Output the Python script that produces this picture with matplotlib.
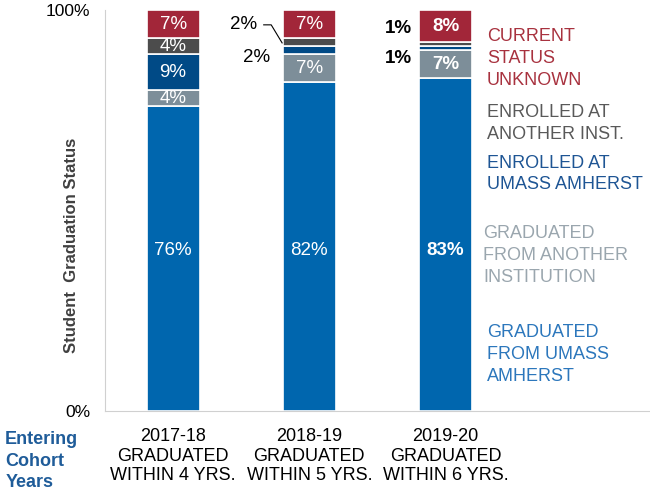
import matplotlib.pyplot as plt
import numpy as np

plt.rcParams['font.family'] = ['Liberation Sans', 'DejaVu Sans']

cohorts = ['2017-18\nGRADUATED\nWITHIN 4 YRS.', '2018-19\nGRADUATED\nWITHIN 5 YRS.', '2019-20\nGRADUATED\nWITHIN 6 YRS.']
grad_umass = [76, 82, 83]
grad_other = [4, 7, 7]
enrolled_umass = [9, 2, 1]
enrolled_other = [4, 2, 1]
unknown = [7, 7, 8]

series = [grad_umass, grad_other, enrolled_umass, enrolled_other, unknown]
colors = ['#0066AE', '#7D8E99', '#004A86', '#4C4C4C', '#A22639']
legend_names = ['GRADUATED\nFROM UMASS\nAMHERST', 'GRADUATED\nFROM ANOTHER\nINSTITUTION',
                'ENROLLED AT\nUMASS AMHERST', 'ENROLLED AT\nANOTHER INST.', 'CURRENT\nSTATUS\nUNKNOWN']
legend_colors = ['#2C77BC', '#9AA6AE', '#1E5594', '#595959', '#A8323F']

fig = plt.figure(figsize=(6.5, 4.93), dpi=100)
ax = fig.add_axes([0.1615, 0.1663, 0.8385, 0.8134])

x = np.arange(len(cohorts))
bottom = np.zeros(len(cohorts))
for vals, c in zip(series, colors):
    ax.bar(x, vals, width=0.39, bottom=bottom, color=c, edgecolor='white', linewidth=1.2)
    bottom += np.array(vals)

# labels inside bars
bold = [False, False, True]
seg_bottom = np.zeros(len(cohorts))
for vals in series:
    for i, v in enumerate(vals):
        if v >= 4:
            y = seg_bottom[i] + v / 2
            if vals is grad_umass:
                y = 40
            ax.text(i, y, f'{v}%', ha='center', va='center', color='white', fontsize=13.5,
                    fontweight='bold' if bold[i] else 'normal')
    seg_bottom += np.array(vals)

# small segment labels outside
ax.text(0.62, 96.4, '2%', ha='right', va='center', fontsize=13.5, color='black')
ax.plot([0.665, 0.72, 0.80], [96.3, 96.3, 91.8], color='black', lw=0.8)
ax.text(0.71, 88.2, '2%', ha='right', va='center', fontsize=13.5, color='black')
ax.text(1.755, 95.3, '1%', ha='right', va='center', fontsize=13.5, color='black', fontweight='bold')
ax.text(1.755, 88.0, '1%', ha='right', va='center', fontsize=13.5, color='black', fontweight='bold')

# side labels acting as legend
leg_pos = [(2.304, 14.0), (2.275, 38.7), (2.304, 59.1), (2.304, 71.6), (2.304, 87.8)]
for name, c, (lx, ly) in zip(legend_names, legend_colors, leg_pos):
    ax.text(lx, ly, name, ha='left', va='center', color=c, fontsize=13, linespacing=1.38)

ax.set_xlim(-0.5, 3.5)
ax.set_ylim(0, 100)
ax.set_yticks([0, 100])
ax.set_yticklabels(['0%', '100%'], fontsize=12.5)
ax.set_xticks(x)
ax.set_xticklabels(cohorts, fontsize=13, linespacing=1.22)
ax.tick_params(axis='both', length=0)
ax.tick_params(axis='x', pad=12)
ax.tick_params(axis='y', pad=10.5)
ax.spines['top'].set_visible(False)
ax.spines['right'].set_visible(False)
ax.spines['left'].set_color('#D0D0D0')
ax.spines['bottom'].set_color('#D0D0D0')
ax.set_ylabel('Student  Graduation Status', fontsize=12, fontweight='bold', color='#404040')
ax.yaxis.set_label_coords(-0.047, 0.414)

fig.text(0.008, 0.004, 'Entering\nCohort\nYears', ha='left', va='bottom', fontsize=13,
         fontweight='bold', color='#1F5C99', linespacing=1.33)

fig.savefig('out.png', dpi=100)
